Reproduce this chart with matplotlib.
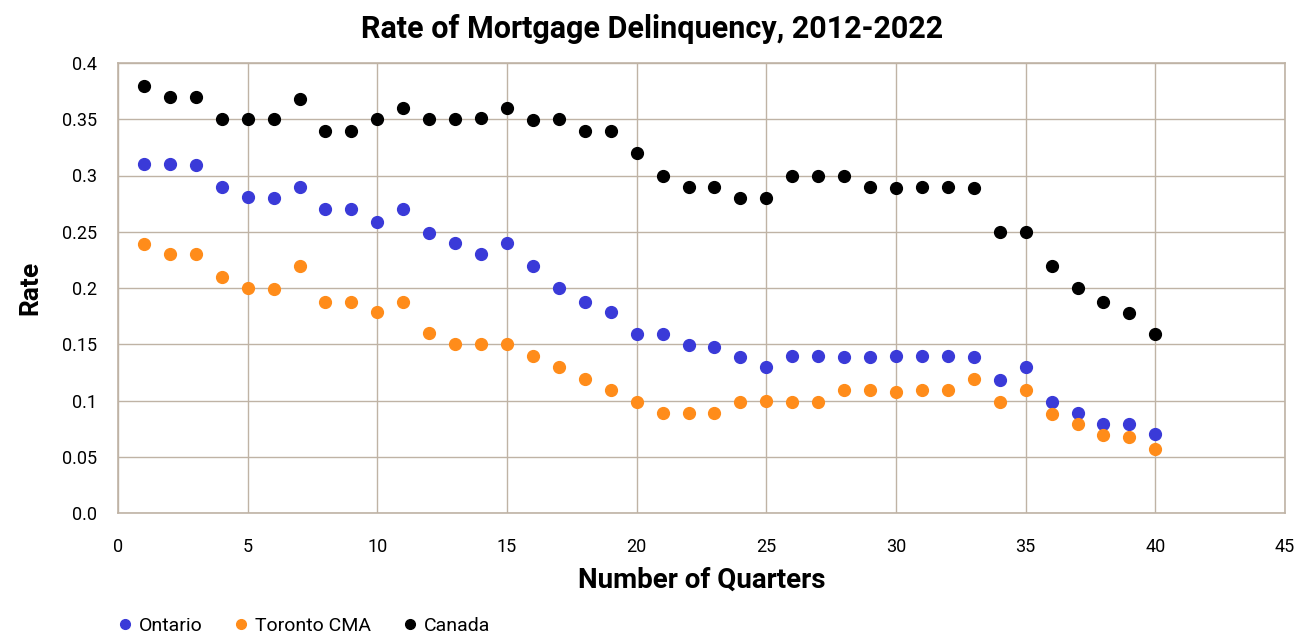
import matplotlib.pyplot as plt
from matplotlib.lines import Line2D

plt.rcParams['font.family'] = ['Roboto', 'DejaVu Sans']

# Data
quarters = list(range(1, 41))
canada = [0.38, 0.37, 0.37, 0.35, 0.35, 0.35, 0.368, 0.34, 0.34, 0.35,
          0.36, 0.35, 0.35, 0.351, 0.36, 0.349, 0.35, 0.34, 0.34, 0.32,
          0.30, 0.29, 0.29, 0.28, 0.28, 0.30, 0.30, 0.30, 0.29, 0.289,
          0.29, 0.29, 0.289, 0.25, 0.25, 0.22, 0.20, 0.188, 0.178, 0.159]
ontario = [0.31, 0.31, 0.309, 0.29, 0.281, 0.28, 0.29, 0.27, 0.27, 0.259,
           0.27, 0.249, 0.24, 0.23, 0.24, 0.22, 0.20, 0.188, 0.179, 0.159,
           0.159, 0.149, 0.148, 0.139, 0.13, 0.14, 0.14, 0.139, 0.139, 0.14,
           0.14, 0.14, 0.139, 0.118, 0.13, 0.099, 0.089, 0.079, 0.079, 0.07]
toronto = [0.239, 0.23, 0.23, 0.21, 0.20, 0.199, 0.22, 0.188, 0.188, 0.179,
           0.188, 0.16, 0.15, 0.15, 0.15, 0.14, 0.13, 0.119, 0.109, 0.099,
           0.089, 0.089, 0.089, 0.099, 0.10, 0.099, 0.099, 0.109, 0.109, 0.108,
           0.109, 0.109, 0.119, 0.099, 0.109, 0.088, 0.079, 0.069, 0.068, 0.057]

series_names = ["Ontario", "Toronto CMA", "Canada"]
series_colors = ["#3a3ad8", "#ff8c1a", "#000000"]

y_ticks = [0.0, 0.05, 0.1, 0.15, 0.2, 0.25, 0.3, 0.35, 0.4]
y_labels = ["0.0", "0.05", "0.1", "0.15", "0.2", "0.25", "0.3", "0.35", "0.4"]
x_ticks = [0, 5, 10, 15, 20, 25, 30, 35, 40, 45]

grid_color = "#bfb3a5"

fig = plt.figure(figsize=(13.04, 6.35), dpi=100)
ax = fig.add_axes([118 / 1304, 1 - 513 / 635, (1285 - 118) / 1304, (513 - 63) / 635])

for vals, name, col in zip([ontario, toronto, canada], series_names, series_colors):
    ax.plot(quarters, vals, linestyle="none", marker="o", markersize=8.5,
            color=col, label=name, zorder=3)

ax.set_xlim(0, 45)
ax.set_ylim(0, 0.4)
ax.set_xticks(x_ticks)
ax.set_yticks(y_ticks)
ax.set_yticklabels(y_labels)
ax.tick_params(length=0, labelsize=13)
ax.tick_params(axis="y", pad=15)
ax.tick_params(axis="x", pad=18)
ax.grid(True, color=grid_color, linewidth=1)
for s in ax.spines.values():
    s.set_color(grid_color)
    s.set_linewidth(1.2)

ax.set_xlabel("Number of Quarters", fontsize=20, fontweight="bold", labelpad=8)
ax.set_ylabel("Rate", fontsize=19, fontweight="bold", labelpad=14)
fig.suptitle("Rate of Mortgage Delinquency, 2012-2022", fontsize=22,
             fontweight="bold", y=0.978)

handles = [Line2D([], [], linestyle="none", marker="o", markersize=7, color=c)
           for c in series_colors]
fig.legend(handles, series_names, loc="center left",
           bbox_to_anchor=(98 / 1304, 1 - 626 / 635),
           ncol=3, frameon=False, fontsize=14, handletextpad=0.2,
           columnspacing=1.5, handlelength=1.0)

fig.savefig("out.png", dpi=100)
